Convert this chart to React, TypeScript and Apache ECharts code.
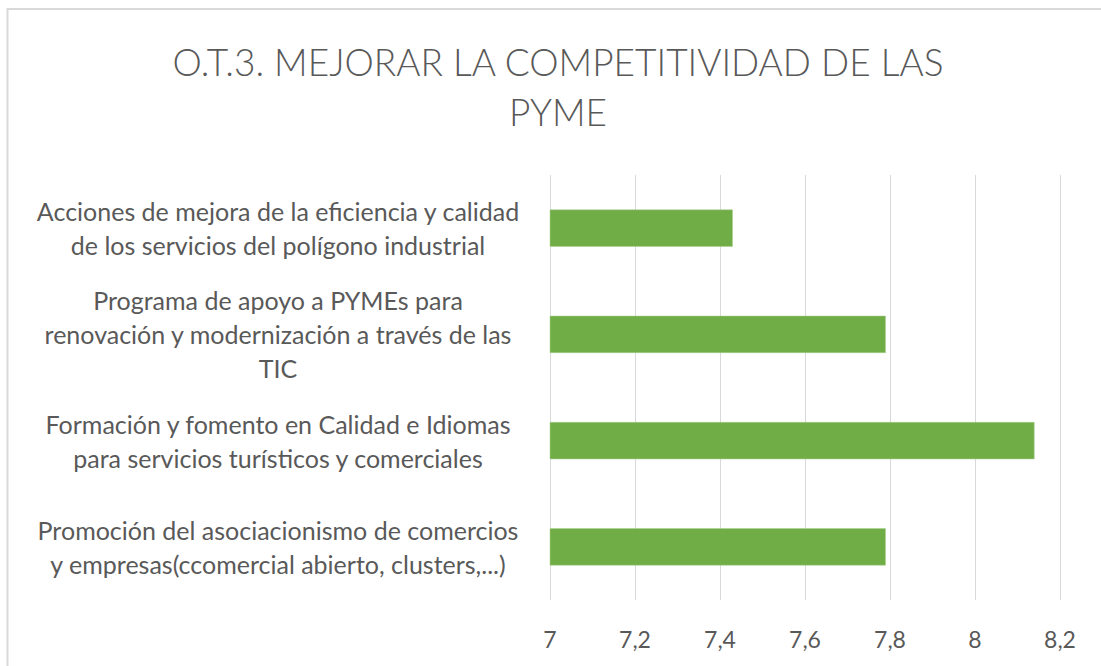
import React, { useEffect, useRef } from "react";
import * as echarts from "echarts";

const titleText = "O.T.3. MEJORAR LA COMPETITIVIDAD DE LAS\nPYME";

// bottom-to-top order (category axis runs upward)
const categories = [
  "Promoción del asociacionismo de comercios\ny empresas(ccomercial abierto, clusters,...)",
  "Formación y fomento en Calidad e Idiomas\npara servicios turísticos y comerciales",
  "Programa de apoyo a PYMEs para\nrenovación y modernización a través de las\nTIC",
  "Acciones de mejora de la eficiencia y calidad\nde los servicios del polígono industrial",
];
const values = [7.79, 8.14, 7.79, 7.43];

const axisMin = 7;
const axisMax = 8.2;
const axisStep = 0.2;

const FONT = "Lato, 'Open Sans', 'Noto Sans', sans-serif";
const TEXT = "#595959";

export default function App() {
  const ref = useRef<HTMLDivElement>(null);
  useEffect(() => {
    document.body.style.margin = "0";
    const chart = echarts.init(ref.current!, null, { renderer: "svg" });
    chart.setOption({
      animation: false,
      backgroundColor: "#ffffff",
      title: {
        text: titleText,
        left: 558,
        top: 36,
        textAlign: "center",
        padding: 0,
        textStyle: {
          fontFamily: FONT,
          fontSize: 37,
          fontWeight: 300,
          color: TEXT,
          lineHeight: 50,
        },
      },
      graphic: [
        {
          type: "rect",
          shape: { x: 7.5, y: 9, width: 1200, height: 800 },
          style: { fill: "none", stroke: "#d9d9d9", lineWidth: 2 },
          silent: true,
          z: -1,
        },
      ],
      grid: { left: 550, right: 41, top: 175, bottom: 66, containLabel: false },
      xAxis: {
        type: "value",
        min: axisMin,
        max: axisMax,
        interval: axisStep,
        axisLine: { show: false },
        axisTick: { show: false },
        splitLine: { show: true, lineStyle: { color: "#d9d9d9", width: 1 } },
        axisLabel: {
          margin: 27,
          fontFamily: FONT,
          fontSize: 23,
          color: TEXT,
          formatter: (v: number) => String(Math.round(v * 10) / 10).replace(".", ","),
        },
      },
      yAxis: {
        type: "category",
        data: categories,
        axisLine: { show: false },
        axisTick: { show: false },
        axisLabel: {
          margin: 272,
          align: "center",
          fontFamily: FONT,
          fontSize: 25,
          lineHeight: 34,
          color: TEXT,
        },
      },
      series: [
        {
          type: "bar",
          data: values,
          barCategoryGap: "65%",
          itemStyle: { color: "#70AD47", borderColor: "#a9d18e", borderWidth: 0.5 },
        },
      ],
    });
    return () => chart.dispose();
  }, []);
  return <div ref={ref} style={{ width: 1101, height: 666 }} />;
}
